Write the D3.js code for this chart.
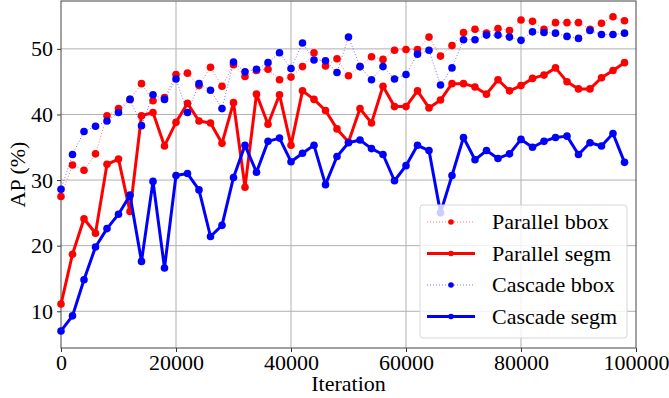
<!DOCTYPE html>
<html>
<head>
<meta charset="utf-8">
<script src="https://cdn.jsdelivr.net/npm/d3@7"></script>
<style>
  body { margin: 0; background: #fff; }
</style>
</head>
<body>
<div id="graph_field"></div>
<script>
// iterations: every 2000 steps from 0 to 98000
const iterations = d3.range(0, 100000, 2000);

// AP values
const parallelBbox = [27.5, 32.3, 31.5, 34.0, 39.8, 40.9, 42.3, 44.7, 42.1, 42.6,
    46.1, 46.3, 44.4, 47.2, 44.3, 47.6, 45.8, 46.7, 46.9, 45.3,
    45.7, 47.3, 49.4, 47.4, 48.5, 45.9, 47.3, 48.8, 48.4, 49.8,
    49.9, 49.9, 51.8, 48.9, 50.5, 52.5, 53.0, 52.4, 53.1, 52.8,
    54.4, 54.2, 53.0, 54.0, 54.0, 54.0, 53.0, 53.9, 54.9, 54.3];
const parallelSegm = [11.1, 18.7, 24.1, 21.9, 32.4, 33.2, 25.2, 39.8, 40.3, 35.2,
    38.8, 41.7, 39.0, 38.7, 35.6, 41.8, 28.9, 43.1, 38.5, 43.0,
    35.3, 43.6, 42.3, 40.6, 37.8, 35.8, 40.9, 38.7, 44.3, 41.2,
    41.2, 43.6, 41.0, 42.2, 44.7, 44.7, 44.2, 43.1, 45.3, 43.6,
    44.4, 45.5, 46.0, 47.1, 45.0, 43.9, 43.9, 45.6, 46.7, 47.9];
const cascadeBbox = [28.6, 33.9, 37.4, 38.2, 39.0, 40.3, 42.3, 38.3, 43.0, 42.3,
    45.4, 40.3, 44.7, 43.7, 40.9, 48.0, 46.5, 46.9, 47.9, 49.4,
    47.0, 50.9, 48.3, 48.2, 46.4, 51.8, 47.3, 45.3, 47.3, 45.4,
    46.1, 49.2, 49.8, 44.5, 47.1, 51.4, 51.4, 52.1, 52.1, 51.8,
    51.3, 52.6, 52.5, 52.4, 51.9, 51.6, 52.8, 52.2, 52.2, 52.4];
const cascadeSegm = [7.0, 9.3, 14.8, 19.8, 22.6, 24.8, 27.7, 17.6, 29.8, 16.6,
    30.7, 31.0, 28.5, 21.4, 23.1, 30.4, 35.3, 31.2, 35.9, 36.4,
    32.8, 34.1, 35.3, 29.3, 33.6, 35.7, 36.1, 34.8, 33.9, 29.9,
    32.2, 35.3, 34.5, 25.0, 30.7, 36.5, 33.1, 34.5, 33.3, 34.0,
    36.2, 35.0, 35.9, 36.5, 36.7, 33.9, 35.7, 35.2, 37.1, 32.7];

const xTicks = [0, 20000, 40000, 60000, 80000, 100000];
const yTicks = [10, 20, 30, 40, 50];

const seriesNames = ["Parallel bbox", "Parallel segm", "Cascade bbox", "Cascade segm"];
const seriesValues = [parallelBbox, parallelSegm, cascadeBbox, cascadeSegm];

// styling for each series
const styles = [
    {color: "#ff0000", width: 1, dash: "1,2", opacity: 0.55, r: 3.8},
    {color: "#ff0000", width: 3, dash: null, opacity: 1, r: 3.8},
    {color: "#0000ff", width: 1, dash: "1,2", opacity: 0.55, r: 3.8},
    {color: "#0000ff", width: 3, dash: null, opacity: 1, r: 3.8}
];

const FONT = "Liberation Serif";
const FS = 22;

const W = 669, H = 398;
const margin = {top: 1, right: 33, bottom: 50, left: 61};
const width = W - margin.left - margin.right;
const height = H - margin.top - margin.bottom;

const svg = d3.select("#graph_field")
    .append("svg")
    .attr("width", W)
    .attr("height", H)
    .attr("font-family", FONT);

const g = svg.append("g")
    .attr("transform", "translate(" + margin.left + "," + margin.top + ")");

const x = d3.scaleLinear().domain([0, 100000]).range([0, width]);
const y = d3.scaleLinear().domain([4.4, 57.3]).range([height, 0]);

// grid
g.append("g").selectAll("line").data(xTicks.slice(1, -1)).join("line")
    .attr("x1", d => x(d)).attr("x2", d => x(d))
    .attr("y1", 0).attr("y2", height)
    .attr("stroke", "#b0b0b0").attr("stroke-width", 1);
g.append("g").selectAll("line").data(yTicks).join("line")
    .attr("x1", 0).attr("x2", width)
    .attr("y1", d => y(d)).attr("y2", d => y(d))
    .attr("stroke", "#b0b0b0").attr("stroke-width", 1);

// axes
const xAxis = g.append("g")
    .attr("transform", "translate(0," + height + ")")
    .call(d3.axisBottom(x).tickValues(xTicks).tickFormat(d3.format("d")).tickSize(4).tickPadding(2));
const yAxis = g.append("g")
    .call(d3.axisLeft(y).tickValues(yTicks).tickSize(4).tickPadding(4));

[xAxis, yAxis].forEach(a => {
    a.attr("font-family", FONT).attr("font-size", FS);
    a.select(".domain").remove();
    a.selectAll(".tick line").attr("stroke", "#333");
    a.selectAll("text").attr("fill", "#000");
});

// frame
g.append("rect")
    .attr("x", 0).attr("y", 0).attr("width", width).attr("height", height)
    .attr("fill", "none").attr("stroke", "#444").attr("stroke-width", 1);

// axis titles
svg.append("text")
    .attr("x", margin.left + width / 2)
    .attr("y", 391)
    .attr("text-anchor", "middle")
    .attr("font-family", FONT)
    .attr("font-size", FS)
    .text("Iteration");

svg.append("text")
    .attr("transform", "rotate(-90)")
    .attr("x", -(margin.top + height / 2))
    .attr("y", 25)
    .attr("text-anchor", "middle")
    .attr("font-family", FONT)
    .attr("font-size", FS)
    .text("AP (%)");

// lines
const line = d3.line()
    .x((d, i) => x(iterations[i]))
    .y(d => y(d));

seriesValues.forEach((vals, k) => {
    const s = styles[k];
    g.append("path")
        .datum(vals)
        .attr("fill", "none")
        .attr("stroke", s.color)
        .attr("stroke-width", s.width)
        .attr("stroke-dasharray", s.dash)
        .attr("stroke-opacity", s.opacity)
        .attr("stroke-linejoin", "round")
        .attr("d", line);
    g.append("g").selectAll("circle").data(vals).join("circle")
        .attr("cx", (d, i) => x(iterations[i]))
        .attr("cy", d => y(d))
        .attr("r", s.r)
        .attr("fill", s.color);
});

// legend
const legend = svg.append("g").attr("transform", "translate(420,205)");
legend.append("rect")
    .attr("width", 207).attr("height", 133)
    .attr("rx", 3)
    .attr("fill", "#fff").attr("fill-opacity", 0.8)
    .attr("stroke", "#d6d6d6").attr("stroke-width", 1);

seriesNames.forEach((name, k) => {
    const s = styles[k];
    const yy = 17 + k * 31.5;
    legend.append("line")
        .attr("x1", 7).attr("x2", 55)
        .attr("y1", yy).attr("y2", yy)
        .attr("stroke", s.color)
        .attr("stroke-width", s.width)
        .attr("stroke-dasharray", s.dash)
        .attr("stroke-opacity", s.opacity);
    legend.append("circle")
        .attr("cx", 31).attr("cy", yy).attr("r", 2.8)
        .attr("fill", s.color);
    legend.append("text")
        .attr("x", 72).attr("y", yy + 7)
        .attr("font-family", FONT)
        .attr("font-size", FS)
        .text(name);
});
</script>
</body>
</html>
